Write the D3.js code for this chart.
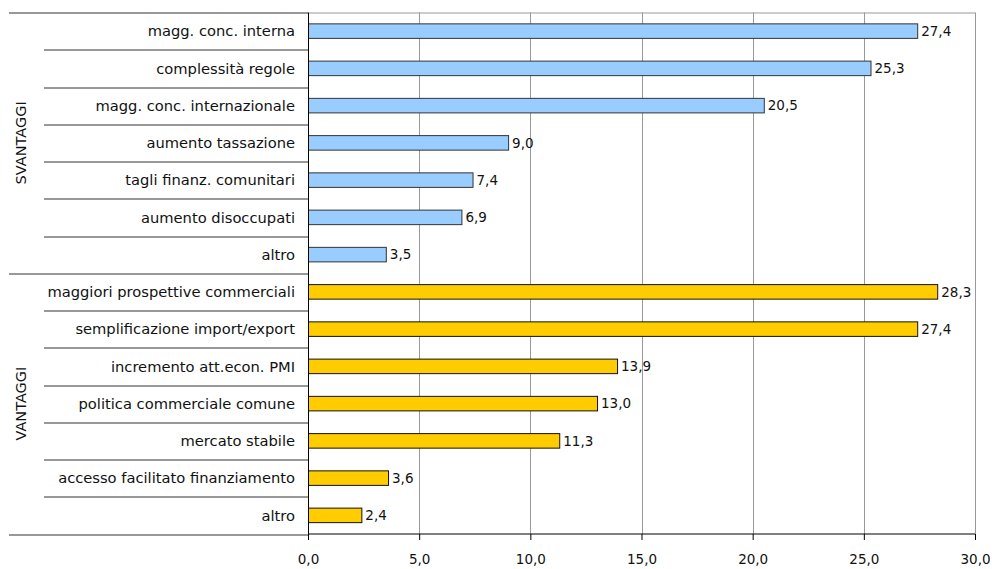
<!DOCTYPE html>
<html>
<head>
<meta charset="utf-8">
<script src="https://cdn.jsdelivr.net/npm/d3@7"></script>
<style>
  body { margin: 0; background: #fff; }
  text { font-family: "DejaVu Sans", sans-serif; }
</style>
</head>
<body>
<svg class="chart"></svg>
<script>
// Data
const svantaggiLabels = ['magg. conc. interna', 'complessità regole', 'magg. conc. internazionale',
  'aumento tassazione', 'tagli finanz. comunitari', 'aumento disoccupati', 'altro'];
const svantaggiValues = [27.4, 25.3, 20.5, 9.0, 7.4, 6.9, 3.5];
const vantaggiLabels = ['maggiori prospettive commerciali', 'semplificazione import/export',
  'incremento att.econ. PMI', 'politica commerciale comune', 'mercato stabile',
  'accesso facilitato finanziamento', 'altro'];
const vantaggiValues = [28.3, 27.4, 13.9, 13.0, 11.3, 3.6, 2.4];
const groupNames = ['SVANTAGGI', 'VANTAGGI'];
const xTicks = [0, 5, 10, 15, 20, 25, 30];

const rows = [];
svantaggiLabels.forEach((l, i) => rows.push({ key: 'S' + i, label: l, value: svantaggiValues[i], group: 0 }));
vantaggiLabels.forEach((l, i) => rows.push({ key: 'V' + i, label: l, value: vantaggiValues[i], group: 1 }));

const svgWidth = 992;
const svgHeight = 569;
const margin = { top: 12.5, right: 17, bottom: 35, left: 308 };
const chartWidth = svgWidth - margin.left - margin.right;
const chartHeight = svgHeight - margin.top - margin.bottom;

const svg = d3.select('.chart')
  .attr('width', svgWidth)
  .attr('height', svgHeight);

const chart = svg.append('g')
  .attr('transform', 'translate(' + margin.left + ',' + margin.top + ')');

const fmt = v => v.toFixed(1).replace('.', ',');

const xScale = d3.scaleLinear()
  .domain([0, 30])
  .range([0, chartWidth]);

const yScale = d3.scaleBand()
  .domain(rows.map(d => d.key))
  .range([0, chartHeight])
  .paddingInner(0.61)
  .paddingOuter(0.305);

const step = yScale.step();

// Gridlines
chart.selectAll('.grid')
  .data(xTicks.filter(t => t > 0))
  .enter()
  .append('line')
  .attr('x1', d => Math.round(xScale(d)) + 0.5)
  .attr('x2', d => Math.round(xScale(d)) + 0.5)
  .attr('y1', 0)
  .attr('y2', chartHeight)
  .attr('stroke', '#999')
  .attr('stroke-width', 1);

// top border
chart.append('line')
  .attr('x1', 0).attr('x2', chartWidth)
  .attr('y1', 0.5).attr('y2', 0.5)
  .attr('stroke', '#999');

// Bars
chart.selectAll('.bar')
  .data(rows)
  .enter()
  .append('rect')
  .attr('x', 0.5)
  .attr('y', d => yScale(d.key))
  .attr('width', d => xScale(d.value))
  .attr('height', yScale.bandwidth())
  .attr('fill', d => d.group === 0 ? '#99ccff' : '#ffcc00')
  .attr('stroke', d => d.group === 0 ? '#333' : '#111')
  .attr('stroke-width', 1);

// Value labels
chart.selectAll('.val')
  .data(rows)
  .enter()
  .append('text')
  .attr('x', d => xScale(d.value) + 4)
  .attr('y', d => yScale(d.key) + yScale.bandwidth() / 2)
  .attr('dy', '0.36em')
  .attr('font-size', '13.5px')
  .attr('fill', '#111')
  .text(d => fmt(d.value));

// X axis
const xAxisGroup = chart.append('g')
  .attr('transform', 'translate(0,' + chartHeight + ')')
  .call(d3.axisBottom(xScale).tickValues(xTicks).tickSize(6).tickPadding(14).tickFormat(fmt));
xAxisGroup.select('.domain').remove();
xAxisGroup.append('line')
  .attr('x1', 0).attr('x2', chartWidth)
  .attr('stroke', '#000');
xAxisGroup.selectAll('line').attr('stroke', '#000');
xAxisGroup.selectAll('text')
  .attr('font-family', '"DejaVu Sans", sans-serif')
  .attr('font-size', '13.5px')
  .attr('fill', '#111');

// Y axis line
chart.append('line')
  .attr('x1', 0.5).attr('x2', 0.5)
  .attr('y1', 0).attr('y2', chartHeight + 6)
  .attr('stroke', '#000');

// Category labels
chart.selectAll('.cat')
  .data(rows)
  .enter()
  .append('text')
  .attr('x', -13)
  .attr('y', d => yScale(d.key) + yScale.bandwidth() / 2)
  .attr('dy', '0.36em')
  .attr('text-anchor', 'end')
  .attr('font-size', '14.7px')
  .attr('fill', '#111')
  .text(d => d.label);

// Category separators
const seps = d3.range(rows.length + 1);
chart.selectAll('.sep')
  .data(seps)
  .enter()
  .append('line')
  .attr('x1', d => (d % 7 === 0) ? -299 : -264)
  .attr('x2', 0)
  .attr('y1', d => Math.round(d * step) + 0.5)
  .attr('y2', d => Math.round(d * step) + 0.5)
  .attr('stroke', '#333');

// Group labels
chart.selectAll('.grp')
  .data(groupNames)
  .enter()
  .append('text')
  .attr('transform', (d, i) => 'translate(' + (-282) + ',' + ((i * 7 + 3.5) * step) + ') rotate(-90)')
  .attr('text-anchor', 'middle')
  .attr('font-size', '14.5px')
  .attr('fill', '#111')
  .text(d => d);
</script>
</body>
</html>
